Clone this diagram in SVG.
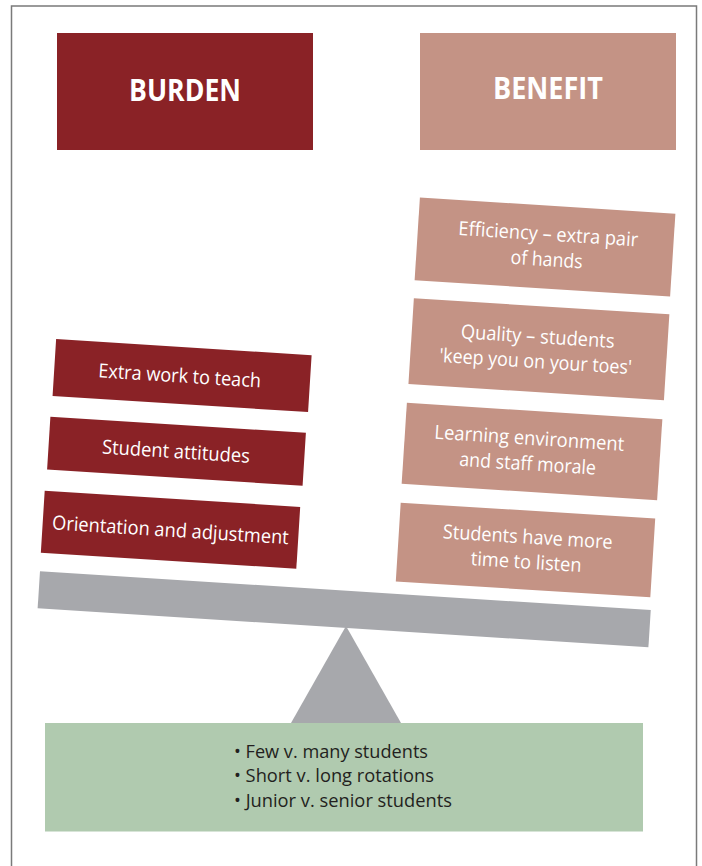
<svg xmlns="http://www.w3.org/2000/svg" width="702" height="866" viewBox="0 0 702 866">
<style>
.frame{fill:#ffffff;stroke:#7a7a7a;stroke-width:1.5}
.burden{fill:#8a2226}
.benefit{fill:#c49385}
.gray{fill:#a7a8ac}
.green{fill:#b0caaf}
.head{font-family:"Open Sans","Liberation Sans",sans-serif;font-weight:bold;font-size:30px;fill:#ffffff;text-anchor:middle}
.lbl{font-family:"Open Sans","Liberation Sans",sans-serif;font-size:19.5px;fill:#ffffff;text-anchor:middle}
.note{font-family:"Open Sans","Liberation Sans",sans-serif;font-size:19px;fill:#231f20}
</style>
<rect class="frame" x="11.5" y="6" width="685" height="880"/>

<g id="burden-header">
<rect class="burden" x="57" y="33" width="256" height="117"/>
<text class="head" x="185" y="101" textLength="112" lengthAdjust="spacingAndGlyphs">BURDEN</text>
</g>
<g id="benefit-header">
<rect class="benefit" x="420" y="33" width="256" height="117"/>
<text class="head" x="548" y="99" textLength="110" lengthAdjust="spacingAndGlyphs">BENEFIT</text>
</g>

<g id="burden-1" transform="translate(182.1 375.6) rotate(3.6)">
<rect class="burden" x="-128" y="-28.5" width="256" height="57"/>
<text class="lbl" x="-2.4" y="7" textLength="163" lengthAdjust="spacingAndGlyphs">Extra work to teach</text>
</g>
<g id="burden-2" transform="translate(176.5 451.2) rotate(3.6)">
<rect class="burden" x="-128" y="-26.5" width="256" height="53"/>
<text class="lbl" x="-0.5" y="7" textLength="148" lengthAdjust="spacingAndGlyphs">Student attitudes</text>
</g>
<g id="burden-3" transform="translate(170.5 529.8) rotate(3.6)">
<rect class="burden" x="-128" y="-31" width="256" height="62"/>
<text class="lbl" x="0" y="7" textLength="237" lengthAdjust="spacingAndGlyphs">Orientation and adjustment</text>
</g>

<g id="benefit-1" transform="translate(545 247) rotate(3.65)">
<rect class="benefit" x="-128" y="-41.5" width="256" height="83"/>
<text class="lbl" x="2.5" y="-6.5" textLength="180" lengthAdjust="spacingAndGlyphs">Efficiency – extra pair</text>
<text class="lbl" x="2.5" y="19" textLength="72" lengthAdjust="spacingAndGlyphs">of hands</text>
</g>
<g id="benefit-2" transform="translate(538.9 349.2) rotate(3.6)">
<rect class="benefit" x="-128" y="-43" width="256" height="86"/>
<text class="lbl" x="-2" y="-6" textLength="154" lengthAdjust="spacingAndGlyphs">Quality – students</text>
<text class="lbl" x="-2.5" y="19" textLength="193" lengthAdjust="spacingAndGlyphs">'keep you on your toes'</text>
</g>
<g id="benefit-3" transform="translate(532 451.5) rotate(3.7)">
<rect class="benefit" x="-128" y="-40.5" width="256" height="81"/>
<text class="lbl" x="-3.5" y="-6.5" textLength="190" lengthAdjust="spacingAndGlyphs">Learning environment</text>
<text class="lbl" x="-3.5" y="19" textLength="137" lengthAdjust="spacingAndGlyphs">and staff morale</text>
</g>
<g id="benefit-4" transform="translate(525.5 550) rotate(3.55)">
<rect class="benefit" x="-127.5" y="-39.5" width="255" height="79"/>
<text class="lbl" x="1.5" y="-6.5" textLength="170" lengthAdjust="spacingAndGlyphs">Students have more</text>
<text class="lbl" x="1.5" y="18.5" textLength="111" lengthAdjust="spacingAndGlyphs">time to listen</text>
</g>

<g id="balance">
<polygon class="gray" points="346,626 291,723 401,723"/>
<g transform="translate(344.2 609.2) rotate(3.65)">
<rect class="gray" x="-306" y="-18.6" width="612" height="37.2"/>
</g>
</g>

<g id="factors">
<rect class="green" x="45" y="723" width="598" height="108.5"/>
<text class="note" x="234" y="758" textLength="194" lengthAdjust="spacingAndGlyphs">• Few v. many students</text>
<text class="note" x="234" y="782" textLength="200" lengthAdjust="spacingAndGlyphs">• Short v. long rotations</text>
<text class="note" x="234" y="807" textLength="218" lengthAdjust="spacingAndGlyphs">• Junior v. senior students</text>
</g>
</svg>
